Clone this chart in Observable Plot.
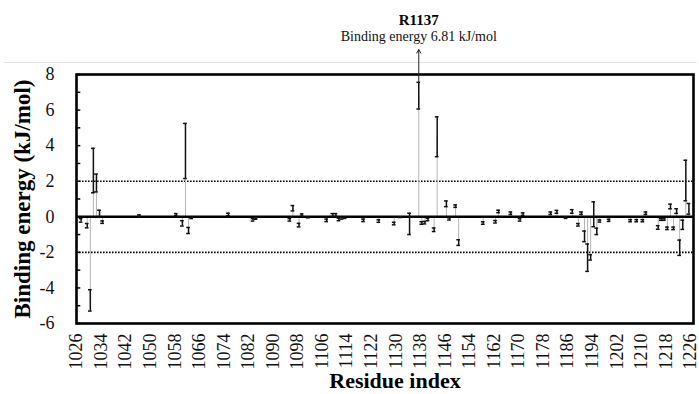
<!DOCTYPE html>
<html>
<head>
<meta charset="utf-8">
<script src="https://cdn.jsdelivr.net/npm/d3@7"></script>
<script src="https://cdn.jsdelivr.net/npm/@observablehq/plot@0.6"></script>
<style>
  html, body { margin: 0; padding: 0; background: #fff; }
  #wrap { position: relative; width: 699px; height: 394px; }
  #chartBorder { position: absolute; left: 4px; top: 62px; width: 693px; height: 1px; background: #e4e4e4; }
</style>
</head>
<body>
<div id="wrap"><div id="chartBorder"></div></div>
<script>
// Residue indices with a visible contribution
const residues = [1027, 1029, 1030, 1031, 1032, 1033, 1034, 1046, 1058, 1060, 1061, 1062, 1063,
  1075, 1083, 1084, 1095, 1096, 1098, 1099, 1101, 1107, 1109, 1110, 1111, 1112, 1113, 1119,
  1124, 1129, 1131, 1134, 1137, 1138, 1139, 1140, 1142, 1143, 1146, 1147, 1149, 1150, 1158,
  1162, 1163, 1167, 1170, 1171, 1180, 1182, 1185, 1187, 1189, 1190, 1191, 1192, 1193, 1194,
  1195, 1196, 1199, 1206, 1208, 1210, 1211, 1215, 1216, 1217, 1218, 1219, 1220, 1221, 1222,
  1223, 1224, 1225];
// Mean binding energy (kJ/mol)
const energies = [-0.2, -0.5, -4.7, 2.6, 1.9, 0.17, -0.3, 0.06, 0.12, -0.37, 3.7, -0.77, -0.06,
  0.13, -0.17, -0.1, -0.17, 0.48, -0.47, 0.1, -0.03, -0.2, 0.1, 0.1, -0.15, -0.08, -0.05, -0.2,
  -0.24, -0.38, -0.02, -0.4, 6.81, -0.35, -0.33, -0.15, -0.73, 4.5, 0.73, -0.12, 0.6, -1.45, -0.35,
  -0.28, 0.3, 0.2, -0.17, 0.15, 0.2, 0.28, -0.05, 0.3, -0.45, 0.2, -1.1, -2.3, -2.28, 0.14,
  -0.82, -0.24, -0.2, -0.22, -0.22, -0.22, 0.2, -0.6, -0.15, -0.15, -0.65, 0.58, -0.65, 0.32, -1.74,
  -0.45, 2.04, 0.45];
// Standard deviation (kJ/mol)
const errors = [0.1, 0.12, 0.6, 1.25, 0.5, 0.2, 0.07, 0.05, 0.06, 0.15, 1.55, 0.17, 0.04,
  0.07, 0.07, 0.04, 0.07, 0.15, 0.1, 0.06, 0.03, 0.07, 0.08, 0.08, 0.07, 0.05, 0.04, 0.07,
  0.07, 0.07, 0.02, 0.6, 0.75, 0.07, 0.07, 0.07, 0.1, 1.12, 0.16, 0.06, 0.07, 0.16, 0.07,
  0.07, 0.07, 0.07, 0.07, 0.07, 0.07, 0.08, 0.04, 0.1, 0.07, 0.07, 0.3, 0.77, 0.15, 0.7,
  0.18, 0.06, 0.06, 0.06, 0.06, 0.06, 0.07, 0.1, 0.05, 0.05, 0.07, 0.13, 0.07, 0.13, 0.43,
  0.26, 1.14, 0.3];

const xTickLabels = [1026, 1034, 1042, 1050, 1058, 1066, 1074, 1082, 1090, 1098, 1106, 1114, 1122,
  1130, 1138, 1146, 1154, 1162, 1170, 1178, 1186, 1194, 1202, 1210, 1218, 1226];
const yTickLabels = [-6, -4, -2, 0, 2, 4, 6, 8];
const yMinorTicks = [-6, -5, -4, -3, -2, -1, 0, 1, 2, 3, 4, 5, 6, 7, 8];
const thresholds = [2, -2];

const annotations = [{residue: 1137, name: "R1137", text: "Binding energy 6.81 kJ/mol"}];

const data = residues.map((r, i) => ({r, v: energies[i], e: errors[i]}));
const xDomain = [1025.5, 1226.5];
const yDomain = [-6, 8];
const annData = annotations.map(a => {
  const d = data.find(p => p.r === a.residue);
  return {...a, top: d.v + d.e};
});

const serif = "Liberation Serif, Times New Roman, serif";

const chart = Plot.plot({
  width: 699,
  height: 394,
  marginTop: 74,
  marginBottom: 71,
  marginLeft: 76,
  marginRight: 6,
  x: {domain: xDomain, axis: null},
  y: {domain: yDomain, axis: null},
  style: {fontFamily: serif, background: "transparent", overflow: "visible"},
  marks: [
    Plot.ruleY(thresholds, {stroke: "#000", strokeWidth: 1.6, strokeDasharray: "1.6,1.4"}),
    Plot.ruleX(data, {x: "r", y1: 0, y2: "v", stroke: "#b5b5b5", strokeWidth: 1}),
    Plot.ruleY([0], {stroke: "#000", strokeWidth: 2.6}),
    Plot.ruleX(data, {x: "r", y1: d => d.v - d.e, y2: d => d.v + d.e, stroke: "#111", strokeWidth: 1.5}),
    Plot.ruleY(data, {y: d => d.v - d.e, x1: d => d.r - 0.6, x2: d => d.r + 0.6, stroke: "#111", strokeWidth: 1.5}),
    Plot.ruleY(data, {y: d => d.v + d.e, x1: d => d.r - 0.6, x2: d => d.r + 0.6, stroke: "#111", strokeWidth: 1.5}),
    Plot.ruleY(yMinorTicks, {x1: xDomain[0], x2: xDomain[0] + 1.4, stroke: "#000", strokeWidth: 1.5}),
    Plot.frame({stroke: "#000", strokeWidth: 2.6}),
    Plot.text(yTickLabels, {x: xDomain[0], y: d => d, text: d => String(d), dx: -22, textAnchor: "end", fontSize: 18, fontFamily: serif, fill: "#111"}),
    Plot.text(xTickLabels, {x: d => d, y: yDomain[0], text: d => String(d), dy: 10, dx: -1.5, rotate: -90, textAnchor: "end", lineAnchor: "middle", fontSize: 18, fontFamily: serif, fill: "#111"}),
    Plot.text(["Binding energy (kJ/mol)"], {frameAnchor: "left", dx: -54, rotate: -90, textAnchor: "middle", lineAnchor: "middle", fontSize: 23, fontWeight: "bold", fontFamily: serif, fill: "#000"}),
    Plot.text(["Residue index"], {frameAnchor: "bottom", dy: 57, dx: 10, textAnchor: "middle", lineAnchor: "middle", fontSize: 22, fontWeight: "bold", fontFamily: serif, fill: "#000"}),
    Plot.arrow(annData, {x: "residue", y1: "top", y2: yDomain[1] + 1.4, stroke: "#222", strokeWidth: 1, headLength: 6}),
    Plot.text(annData, {x: "residue", y: yDomain[1], text: "name", dy: -54, fontSize: 15, fontWeight: "bold", fontFamily: serif, fill: "#000"}),
    Plot.text(annData, {x: "residue", y: yDomain[1], text: "text", dy: -38, fontSize: 14, fontFamily: serif, fill: "#111"})
  ]
});
chart.style.position = "absolute";
chart.style.left = "0px";
chart.style.top = "0px";
document.getElementById("wrap").appendChild(chart);
</script>
</body>
</html>
